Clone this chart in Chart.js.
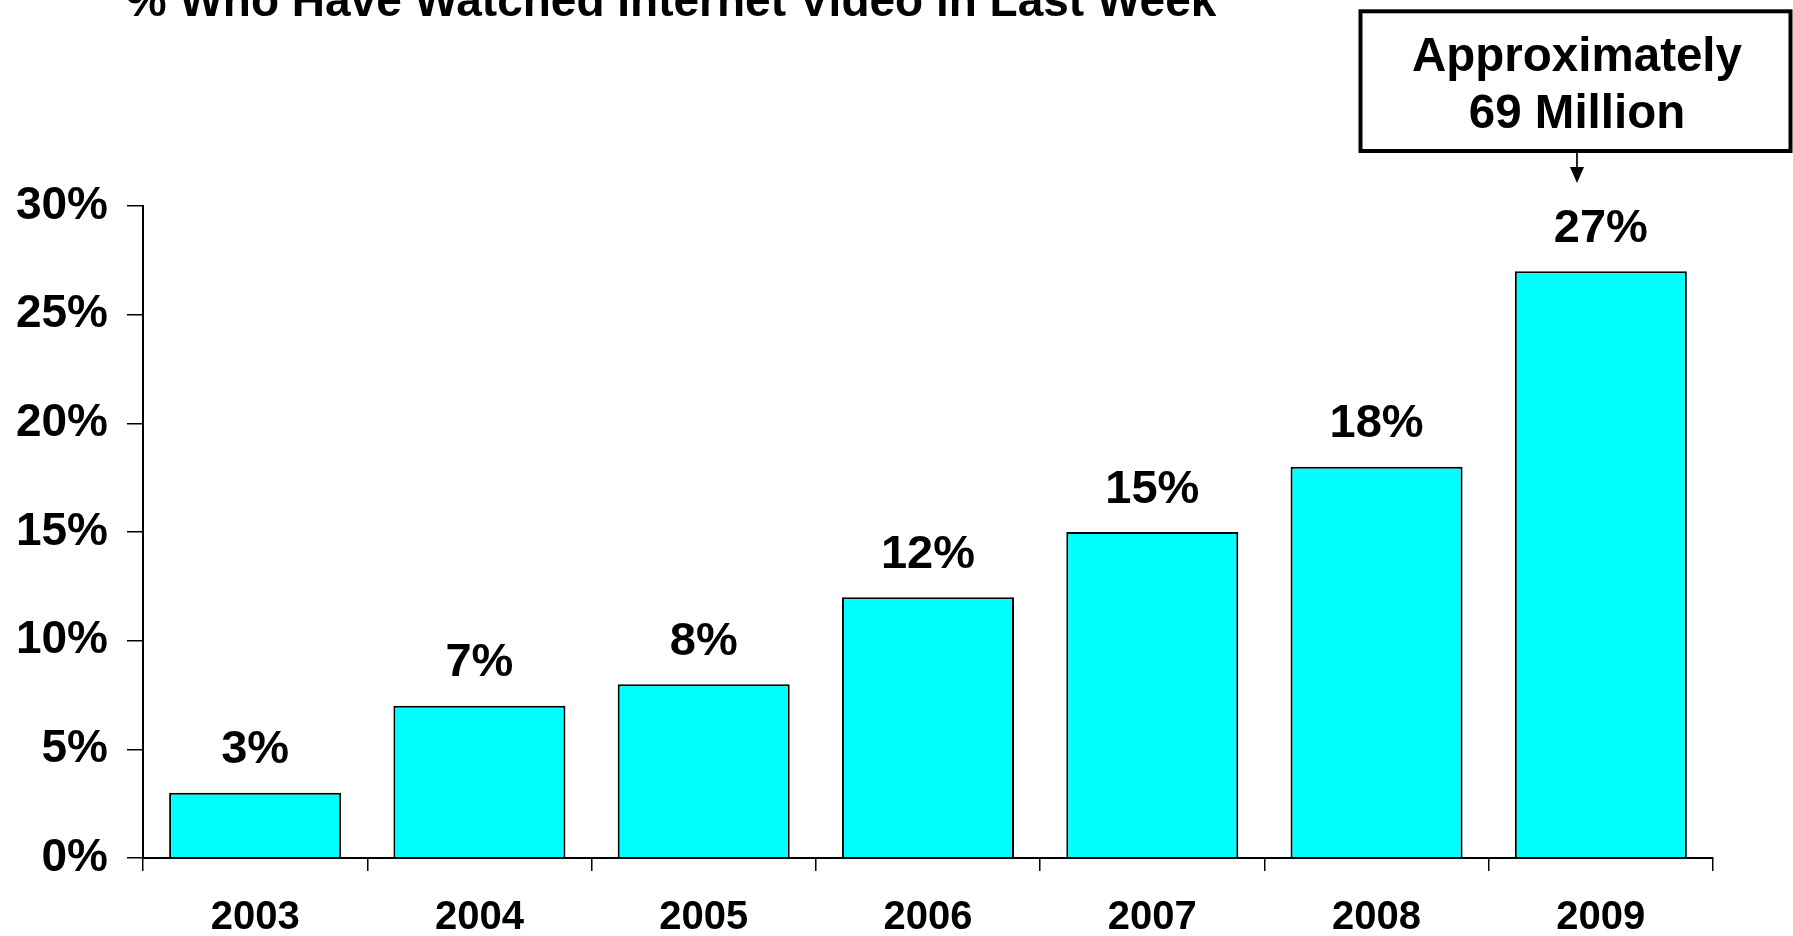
<!DOCTYPE html>
<html>
<head>
<meta charset="utf-8">
<title>% Who Have Watched Internet Video in Last Week</title>
<script src="https://cdn.jsdelivr.net/npm/chart.js@4/dist/chart.umd.min.js"></script>
<style>
  html, body { margin: 0; padding: 0; background: #fff; }
  canvas { display: block; }
</style>
</head>
<body>
<canvas id="chart" width="1793" height="936"></canvas>
<script>
// Survey years and share of people who watched internet video in the last week
const years = ['2003', '2004', '2005', '2006', '2007', '2008', '2009'];
const watchedPct = [3, 7, 8, 12, 15, 18, 27];
const yTicks = [0, 5, 10, 15, 20, 25, 30];

const chartTitle = '% Who Have Watched Internet Video in Last Week';
const calloutLines = ['Approximately', '69 Million'];

const FONT = '"Liberation Sans", Arial, Helvetica, sans-serif';

// Percent labels above each bar
const valueLabels = {
  id: 'valueLabels',
  afterDatasetsDraw(chart) {
    const ctx = chart.ctx;
    const meta = chart.getDatasetMeta(0);
    ctx.save();
    ctx.font = 'bold 47px ' + FONT;
    ctx.fillStyle = '#000';
    ctx.textAlign = 'center';
    ctx.textBaseline = 'alphabetic';
    meta.data.forEach((bar, i) => {
      ctx.fillText(chart.data.datasets[0].data[i] + '%', bar.x, bar.y - 29.5);
    });
    ctx.restore();
  }
};

// Heading plus the boxed callout pointing at the last bar
const headingAndCallout = {
  id: 'headingAndCallout',
  afterDraw(chart) {
    const ctx = chart.ctx;
    ctx.save();
    ctx.fillStyle = '#000';
    ctx.textAlign = 'center';
    ctx.textBaseline = 'alphabetic';
    ctx.font = 'bold 46px ' + FONT;
    ctx.fillText(chartTitle, 671, 16);

    // callout box
    ctx.strokeStyle = '#000';
    ctx.lineWidth = 4;
    ctx.strokeRect(1360.5, 11.3, 430, 139.7);
    ctx.font = 'bold 47.5px ' + FONT;
    ctx.fillText(calloutLines[0], 1577, 71);
    ctx.fillText(calloutLines[1], 1577, 128);

    // arrow down toward the 2009 bar
    ctx.lineWidth = 1.7;
    ctx.beginPath();
    ctx.moveTo(1577, 153);
    ctx.lineTo(1577, 168);
    ctx.stroke();
    ctx.beginPath();
    ctx.moveTo(1570, 167);
    ctx.lineTo(1584, 167);
    ctx.lineTo(1577, 183);
    ctx.closePath();
    ctx.fill();
    ctx.restore();
  }
};

new Chart(document.getElementById('chart'), {
  type: 'bar',
  data: {
    labels: years,
    datasets: [{
      data: watchedPct,
      backgroundColor: '#00FFFF',
      borderColor: '#000',
      borderWidth: 2,
      categoryPercentage: 1,
      barPercentage: 0.767
    }]
  },
  options: {
    responsive: false,
    devicePixelRatio: 1,
    animation: false,
    layout: { padding: { top: 206, right: 80, left: 0, bottom: 0 } },
    plugins: {
      legend: { display: false },
      title: { display: false },
      tooltip: { enabled: false }
    },
    scales: {
      x: {
        offset: true,
        grid: {
          offset: true,
          drawOnChartArea: false,
          drawTicks: true,
          tickLength: 13,
          color: '#000',
          lineWidth: 1.5
        },
        border: { display: true, color: '#000', width: 2 },
        ticks: {
          color: '#000',
          font: { family: FONT, weight: 'bold', size: 40 },
          padding: 23,
          maxRotation: 0
        },
        afterFit(scale) {
          scale.height = 78;
          scale.paddingLeft = 0;
          scale.paddingRight = 0;
        }
      },
      y: {
        min: 0,
        max: 30,
        afterBuildTicks(scale) {
          scale.ticks = yTicks.map(v => ({ value: v }));
        },
        grid: {
          drawOnChartArea: false,
          drawTicks: true,
          tickLength: 16,
          color: '#000',
          lineWidth: 1.5
        },
        border: { display: true, color: '#000', width: 2 },
        ticks: {
          color: '#000',
          font: { family: FONT, weight: 'bold', size: 46 },
          padding: 19,
          callback: v => v + '%'
        },
        afterFit(scale) {
          scale.width = 143;
          scale.paddingTop = 0;
          scale.paddingBottom = 0;
        }
      }
    }
  },
  plugins: [valueLabels, headingAndCallout]
});
</script>
</body>
</html>
